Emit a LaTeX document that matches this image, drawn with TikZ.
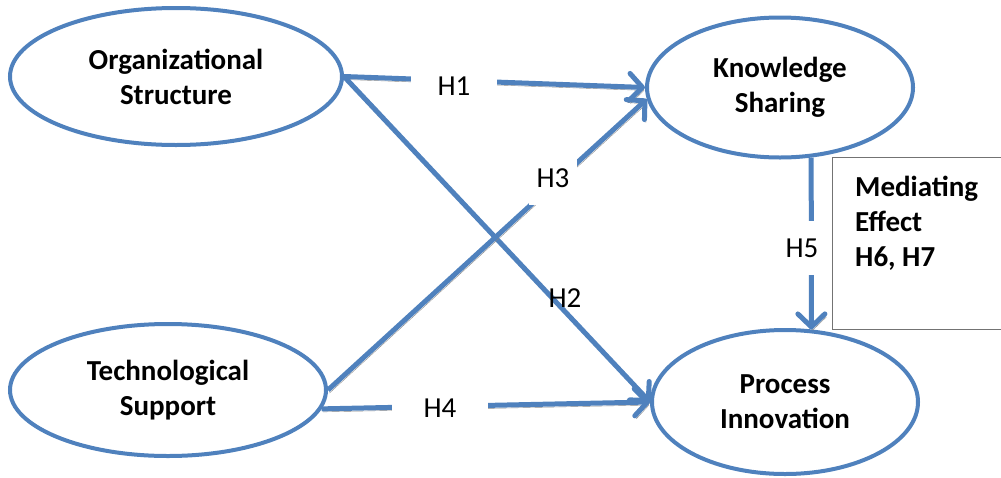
\documentclass[tikz,border=0pt]{standalone}
\usepackage{fontspec}
\setmainfont{Carlito}
\usetikzlibrary{arrows.meta,shapes.geometric}
\definecolor{ppblue}{HTML}{4F81BD}

\begin{document}
\begin{tikzpicture}[x=1pt,y=-1pt,
  construct/.style={ellipse,draw=ppblue,line width=4pt,inner sep=0pt,align=center,
    font=\fontsize{29}{35}\selectfont\bfseries},
  hyp/.style={draw=ppblue,line width=5pt,
    preaction={draw=gray!95,transform canvas={shift={(1.5pt,-3pt)}}}},
  tip/.style={-{Straight Barb[length=13pt,width=27pt,round]}},
  hlabel/.style={fill=white,inner sep=0pt,font=\fontsize{29}{35}\selectfont}]
\useasboundingbox (0,0) rectangle (1001,477);
% constructs
\node[construct,minimum width=332pt,minimum height=137pt] (os) at (176,76.5) {Organizational\\Structure};
\node[construct,minimum width=266pt,minimum height=140pt] (ks) at (780,87.5) {Knowledge\\Sharing};
\node[construct,minimum width=316pt,minimum height=132pt] (ts) at (168,390) {Technological\\Support};
\node[construct,minimum width=266pt,minimum height=144pt] (pi) at (785,402) {Process\\Innovation};
% mediating box
\node[draw=gray!90!black,line width=1.2pt,minimum width=180pt,minimum height=172pt,
  anchor=north west] (med) at (832,157) {};
\node[anchor=north west,align=left,inner sep=0pt,font=\fontsize{29}{35}\selectfont\bfseries]
  (medtext) at (855,176) {Mediating\\Effect\\H6, H7};
% hypotheses
\draw[hyp,tip] (os.east) -- (ks.west);
\draw[hyp,tip] (os.east) -- (pi.west);
\draw[hyp,tip] (ts.east) -- (ks.185);
\draw[hyp,tip] (ts.-7) -- (pi.west);
\draw[hyp,tip] (ks.-66) -- (pi.70);
% labels
\node[hlabel,minimum width=86pt,minimum height=30pt] (h1) at (454,86) {H1};
\node[font=\fontsize{29}{35}\selectfont,inner sep=0pt] (h2) at (565,298) {H2};
\node[hlabel,minimum width=48pt,minimum height=54pt] (h3) at (553,178) {H3};
\node[hlabel,minimum width=96pt,minimum height=30pt] (h4) at (440,408) {H4};
\node[hlabel,minimum width=36pt,minimum height=54pt] (h5) at (802,248) {H5};
\end{tikzpicture}
\end{document}
